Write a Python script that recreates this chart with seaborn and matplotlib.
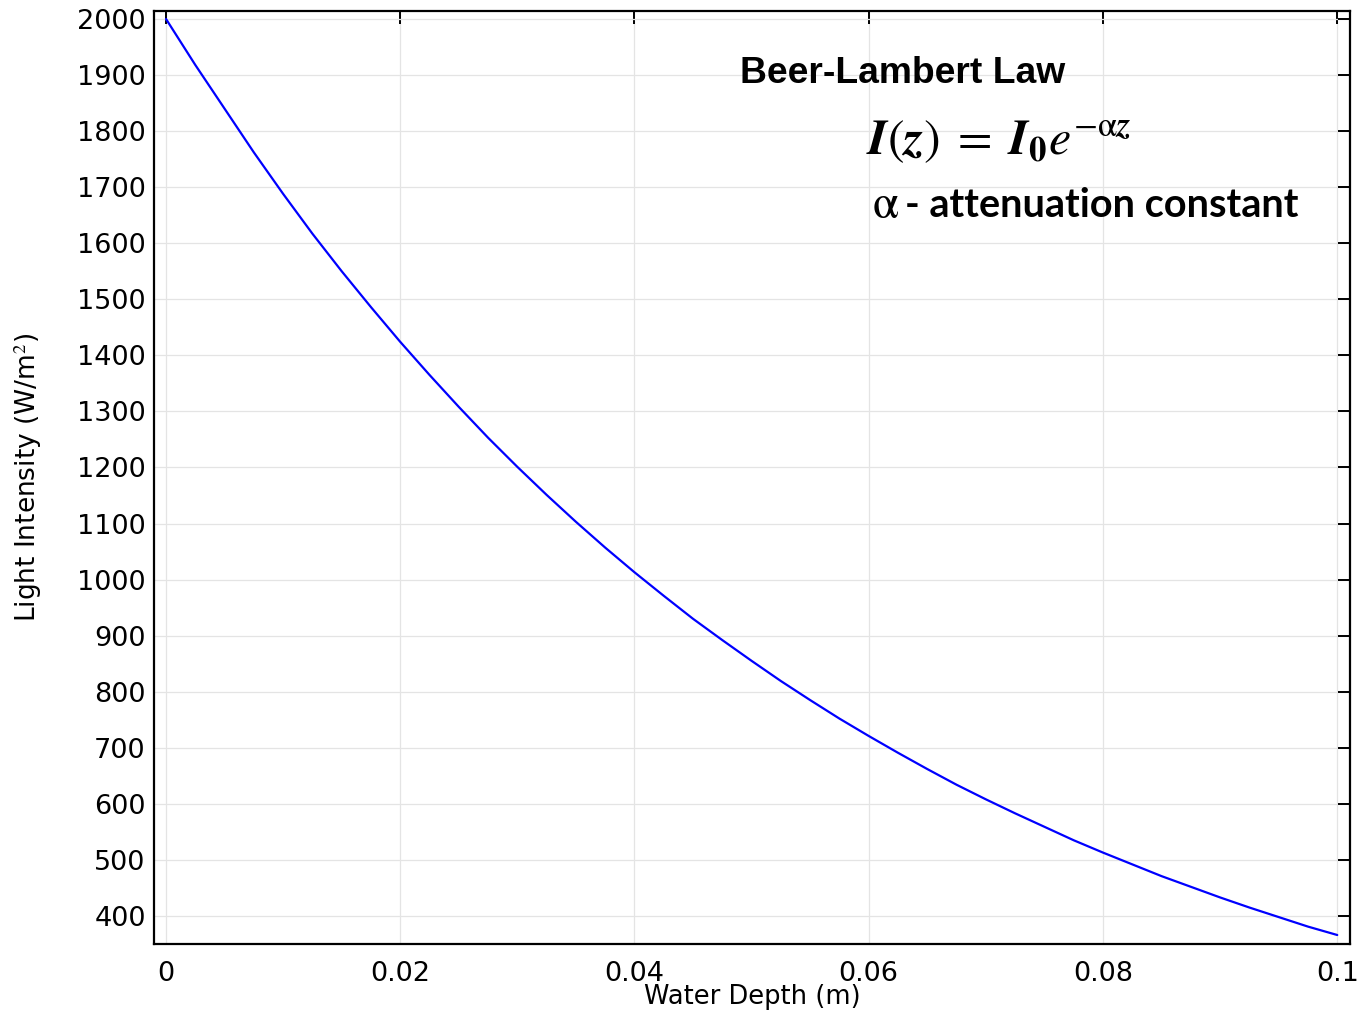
import matplotlib
matplotlib.use('Agg')
import matplotlib.pyplot as plt
import seaborn as sns
import pandas as pd

# Values
depth = [0.0, 0.0025, 0.005, 0.0075, 0.01, 0.0125, 0.015, 0.0175, 0.02, 0.0225,
         0.025, 0.0275, 0.03, 0.0325, 0.035, 0.0375, 0.04, 0.0425, 0.045, 0.0475,
         0.05, 0.0525, 0.055, 0.0575, 0.06, 0.0625, 0.065, 0.0675, 0.07, 0.0725,
         0.075, 0.0775, 0.08, 0.0825, 0.085, 0.0875, 0.09, 0.0925, 0.095, 0.0975, 0.1]
intensity = [2000, 1918, 1840, 1762, 1688, 1617, 1550, 1486, 1424, 1365,
             1308, 1253, 1201, 1151, 1103, 1057, 1013, 971, 930, 892,
             855, 819, 785, 752, 721, 691, 662, 634, 608, 583,
             559, 535, 513, 492, 471, 452, 433, 415, 398, 381, 366]
x_ticks = [0, 0.02, 0.04, 0.06, 0.08, 0.1]
x_labels = ['0', '0.02', '0.04', '0.06', '0.08', '0.1']
y_ticks = list(range(400, 2001, 100))

df = pd.DataFrame({'depth': depth, 'intensity': intensity})

sns.set_style('whitegrid')
plt.rcParams['font.family'] = ['DejaVu Sans']
plt.rcParams['mathtext.fontset'] = 'stix'
plt.rcParams['text.color'] = 'black'
plt.rcParams['axes.labelcolor'] = 'black'

fig = plt.figure(figsize=(13.61, 10.11), dpi=100)
ax = fig.add_axes([0.1132, 0.0663, 0.8788, 0.9227])

sns.lineplot(data=df, x='depth', y='intensity', color='#0000ff', linewidth=1.6, ax=ax)

ax.set_xlim(-0.00102, 0.1011)
ax.set_ylim(350, 2014)
ax.set_xticks(x_ticks)
ax.set_xticklabels(x_labels)
ax.set_yticks(y_ticks)

ax.grid(True, color='#e4e4e4', linewidth=0.9)
for s in ax.spines.values():
    s.set_visible(True)
    s.set_color('black')
    s.set_linewidth(1.6)
ax.tick_params(direction='in', length=9, width=1.4, top=True, right=True,
               labelsize=19.5, colors='black', pad=6)
ax.tick_params(axis='x', pad=12)

ax.set_xlabel('Water Depth (m)', fontsize=18.5, labelpad=-2, family='DejaVu Sans')
ax.set_ylabel('Light Intensity (W/m$^2$)', fontsize=19, labelpad=24, family='DejaVu Sans')

ax.text(0.49, 0.933, 'Beer-Lambert Law', transform=ax.transAxes,
        family='Liberation Sans', fontweight='bold', fontsize=26.8, va='center')
ax.text(0.595, 0.86,
        r'$\mathbfit{I}(\mathbfit{z})\;=\;\mathbfit{I}_{\mathbf{0}}e^{-\mathrm{\alpha}\mathbfit{z}}$',
        transform=ax.transAxes, fontsize=36, va='center')
ax.text(0.60, 0.792, r'$\mathrm{\alpha}$', transform=ax.transAxes,
        fontsize=34, va='center')
ax.text(0.628, 0.792, '- attenuation constant', transform=ax.transAxes,
        family=['Lato', 'DejaVu Sans'], fontweight='bold', fontsize=28.5, va='center')

fig.savefig('out.png', dpi=100)
